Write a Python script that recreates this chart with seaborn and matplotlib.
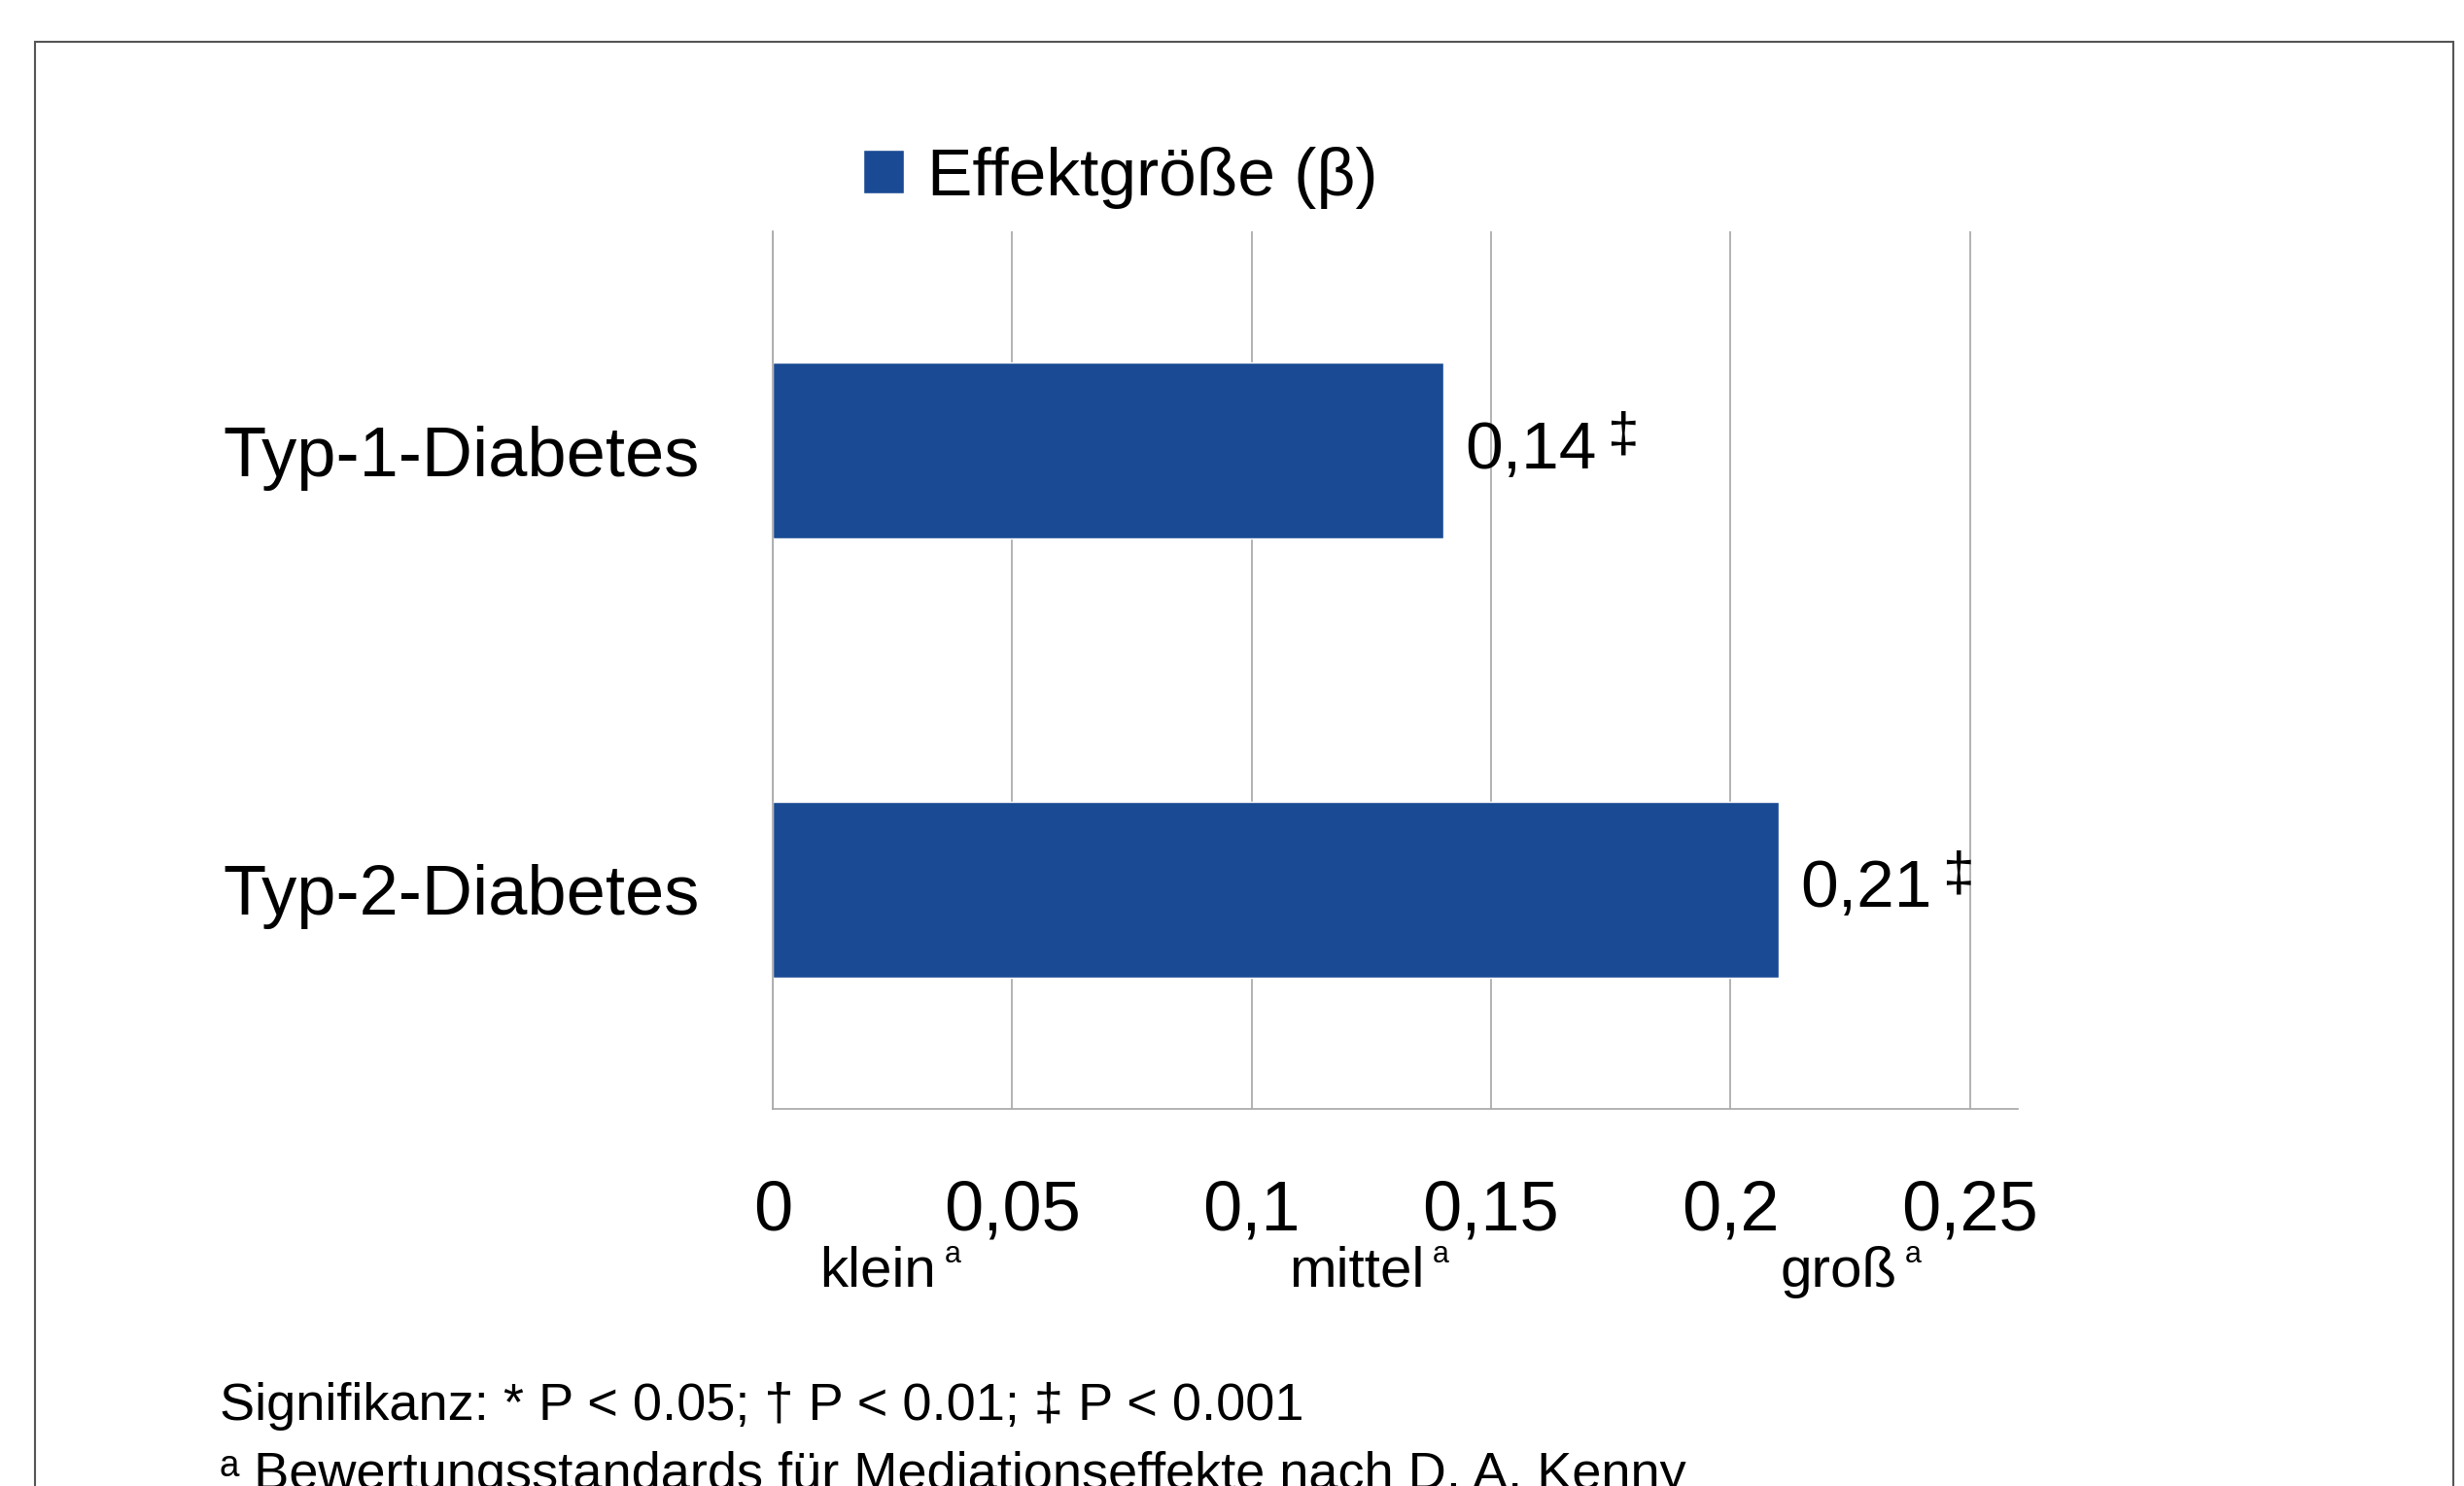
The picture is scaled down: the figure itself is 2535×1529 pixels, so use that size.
import matplotlib
matplotlib.use("Agg")
import matplotlib.pyplot as plt
import seaborn as sns
from matplotlib.patches import Rectangle

# -----------------------------------
# Data
# -----------------------------------
categories = ["Typ-1-Diabetes", "Typ-2-Diabetes"]
beta = [0.14, 0.21]
value_labels = ["0,14", "0,21"]
sig_marks = ["\u2021", "\u2021"]
x_ticks = [0, 0.05, 0.1, 0.15, 0.2, 0.25]
x_tick_labels = ["0", "0,05", "0,1", "0,15", "0,2", "0,25"]
scale_names = ["klein", "mittel", "groß"]
scale_pos = [0.022, 0.122, 0.2226]
legend_label = "Effektgröße (β)"
footnotes = ["Signifikanz: * P < 0.05; \u2020 P < 0.01; \u2021 P < 0.001",
             "\u1d43 Bewertungsstandards für Mediationseffekte nach D. A. Kenny"]

bar_color = "#1A4A93"
grid_color = "#A6A6A6"

sns.set_style("white")
plt.rcParams["font.family"] = ["Liberation Sans", "DejaVu Sans"]
plt.rcParams["text.color"] = "black"
plt.rcParams["xtick.labelcolor"] = "black"
plt.rcParams["ytick.labelcolor"] = "black"

fig = plt.figure(figsize=(25.35, 15.29), dpi=100)
ax = fig.add_axes([0.3136, 0.2538, 0.5053, 0.5905])

sns.barplot(x=beta, y=categories, orient="h", color=bar_color, width=0.4,
            saturation=1, label=legend_label, ax=ax)

ax.set_xlim(0, 0.26)
ax.set_ylim(1.5, -0.5)
ax.set_xticks(x_ticks)
ax.set_xticklabels(x_tick_labels, fontsize=52)
ax.tick_params(axis="x", direction="out", length=18, width=1.2, color=grid_color, pad=34)

# category boundaries as major ticks, names as minor ticks
ax.set_yticks([-0.5, 0.5, 1.5])
ax.set_yticklabels(["", "", ""])
ax.set_yticks([0, 1], minor=True)
ax.set_yticklabels(categories, minor=True, fontsize=52)
ax.tick_params(axis="y", which="major", direction="out", length=16, width=1.2, color=grid_color)
ax.tick_params(axis="y", which="minor", length=0, pad=54)
ax.set_xlabel("")
ax.set_ylabel("")

ax.grid(axis="x", color=grid_color, lw=1.2)
ax.grid(axis="y", visible=False)
ax.set_axisbelow(True)
for s in ["top", "right"]:
    ax.spines[s].set_visible(False)
for s in ["left", "bottom"]:
    ax.spines[s].set_color(grid_color)
    ax.spines[s].set_linewidth(1.2)

# value labels with significance marks
for i, (v, lab, sig) in enumerate(zip(beta, value_labels, sig_marks)):
    t = ax.annotate(lab, xy=(v, i), xytext=(16, 0), textcoords="offset points",
                    ha="left", va="center", fontsize=50)
    ax.annotate(sig, xy=(1, 0.72), xycoords=t, xytext=(8, 0), textcoords="offset points",
                ha="left", va="center", fontsize=42)

# scale names under the tick labels
for name, xp in zip(scale_names, scale_pos):
    t = ax.annotate(name, xy=(xp, 0), xycoords=("data", "axes fraction"),
                    xytext=(0, -121), textcoords="offset points",
                    ha="center", va="center", fontsize=42)
    ax.annotate("\u1d43", xy=(1, 0.72), xycoords=t, xytext=(6, 0), textcoords="offset points",
                ha="left", va="center", fontsize=32)

ax.legend(loc="center left", bbox_to_anchor=(888 / 2535, 1 - 183 / 1529),
          bbox_transform=fig.transFigure, frameon=False, fontsize=50,
          handlelength=0.6, handleheight=0.6, handletextpad=0.35,
          borderpad=0, borderaxespad=0)

fig.text(226 / 2535, 1 - 1447 / 1529, footnotes[0], fontsize=39, va="center", ha="left")
fig.text(226 / 2535, 1 - 1518 / 1529, footnotes[1], fontsize=39, va="center", ha="left")

# outer frame
fig.patches.append(Rectangle((36 / 2535, -0.05), (2524 - 36) / 2535, 1.05 - 43 / 1529,
                             transform=fig.transFigure, fill=False,
                             edgecolor="#555555", lw=1.5))

fig.savefig("out.png", dpi=100)
